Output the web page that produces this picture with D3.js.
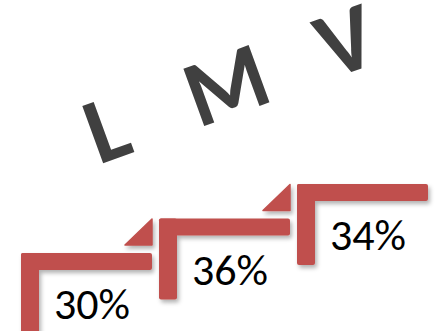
<!DOCTYPE html>
<html>
<head>
<meta charset="utf-8">
<script src="https://cdnjs.cloudflare.com/ajax/libs/d3/7.8.5/d3.min.js"></script>
<style>
  html, body { margin: 0; padding: 0; background: #ffffff; }
  svg { display: block; }
</style>
</head>
<body>
<script>
// ---- data ----
const categories = ["L", "M", "V"];
const values = [30, 36, 34];
const valueLabels = values.map(v => v + "%");

// ---- layout ----
const W = 437, H = 331;
const svg = d3.select("body").append("svg").attr("width", W).attr("height", H);

const defs = svg.append("defs");
const f = defs.append("filter").attr("id", "shadow")
  .attr("x", "-10%").attr("y", "-10%").attr("width", "130%").attr("height", "140%");
f.append("feDropShadow").attr("dx", 2).attr("dy", 3).attr("stdDeviation", 2)
  .attr("flood-color", "#000").attr("flood-opacity", 0.3);

// step scales (by category index)
const x = d3.scaleBand().domain(categories).range([21, 435]).paddingInner(0).paddingOuter(0);
const y = d3.scalePoint().domain(categories).range([253, 184]);

// letter scales
const lx = d3.scalePoint().domain(categories).range([107, 346]);
const ly = d3.scalePoint().domain(categories).range([130, 42]);

const red = "#C0504D";
const thick = 17;
const stepLen = 131;
const legLen = 81;

const steps = svg.append("g").attr("filter", "url(#shadow)");

categories.forEach((c, i) => {
  const x0 = x(c), top = y(c);
  const g = steps.append("g");
  g.append("rect").attr("x", x0).attr("y", top).attr("width", stepLen).attr("height", thick)
    .attr("rx", 2).attr("fill", red);
  g.append("rect").attr("x", x0).attr("y", top).attr("width", thick + 1).attr("height", legLen)
    .attr("rx", 2).attr("fill", red);
  if (i < categories.length - 1) {
    const rx = x0 + stepLen, by = top - 8;
    g.append("path")
      .attr("d", `M${rx - 27},${by} L${rx},${by} L${rx},${by - 26} Z`)
      .attr("fill", red).attr("stroke", red).attr("stroke-width", 1.5).attr("stroke-linejoin", "round");
  }
});

// value labels
svg.append("g").selectAll("text").data(categories).join("text")
  .attr("x", c => x(c) + 71)
  .attr("y", c => y(c) + 66)
  .attr("text-anchor", "middle")
  .attr("font-family", "Carlito, Calibri, 'Noto Sans', sans-serif")
  .attr("font-size", 44)
  .attr("fill", "#000")
  .text((c, i) => valueLabels[i]);

// category letters
svg.append("g").selectAll("text").data(categories).join("text")
  .attr("transform", c => `translate(${lx(c)},${ly(c)}) rotate(-20)`)
  .attr("text-anchor", "middle")
  .attr("dy", "0.32em")
  .attr("font-family", "Carlito, Calibri, Lato, sans-serif")
  .attr("font-weight", "bold")
  .attr("font-size", 94)
  .attr("fill", "#404040")
  .text(c => c);
</script>
</body>
</html>
